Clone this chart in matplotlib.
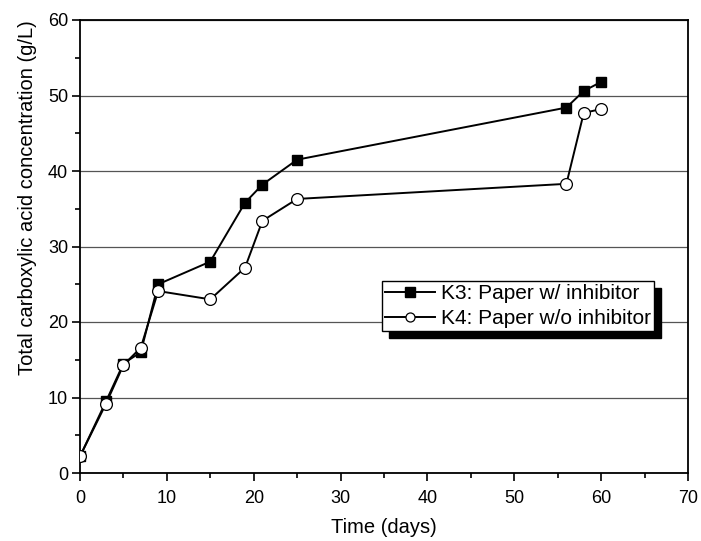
import matplotlib
matplotlib.use('Agg')
import matplotlib.pyplot as plt
from matplotlib.ticker import MultipleLocator

plt.rcParams['font.family'] = ['Liberation Sans', 'DejaVu Sans']

# days, g/L
k3_days = [0, 3, 5, 7, 9, 15, 19, 21, 25, 56, 58, 60]
k3_conc = [2.2, 9.5, 14.5, 16.0, 25.0, 28.0, 35.8, 38.2, 41.5, 48.4, 50.6, 51.8]
k4_days = [0, 3, 5, 7, 9, 15, 19, 21, 25, 56, 58, 60]
k4_conc = [2.2, 9.2, 14.3, 16.6, 24.1, 23.0, 27.2, 33.4, 36.3, 38.3, 47.7, 48.2]
k3_label = 'K3: Paper w/ inhibitor'
k4_label = 'K4: Paper w/o inhibitor'

fig = plt.figure(figsize=(7.01, 5.41), dpi=100)
ax = fig.add_axes([80 / 701, 1 - 473 / 541, 608 / 701, 453 / 541])

ax.plot(k3_days, k3_conc, color='black', lw=1.4, marker='s', ms=7,
        mfc='black', mec='black', label=k3_label, zorder=3)
ax.plot(k4_days, k4_conc, color='black', lw=1.4, marker='o', ms=8.5,
        mfc='white', mec='black', mew=0.9, label=k4_label, zorder=4)

ax.set_xlim(0, 70)
ax.set_ylim(0, 60)
ax.xaxis.set_major_locator(MultipleLocator(10))
ax.xaxis.set_minor_locator(MultipleLocator(5))
ax.yaxis.set_major_locator(MultipleLocator(10))
ax.yaxis.set_minor_locator(MultipleLocator(5))
ax.tick_params(which='major', direction='out', length=5.5, width=1.2,
               labelsize=13)
ax.tick_params(axis='x', which='major', pad=7)
ax.tick_params(axis='y', which='major', pad=3)
ax.tick_params(which='minor', direction='out', length=3.5, width=1.2)
ax.grid(axis='y', which='major', color='#555555', lw=0.9)
ax.set_axisbelow(True)
for s in ax.spines.values():
    s.set_linewidth(1.3)

ax.set_xlabel('Time (days)', fontsize=14.5, labelpad=8)
ax.set_ylabel('Total carboxylic acid concentration (g/L)', fontsize=14.5)
# the original label sits above the axis centre
ax.yaxis.set_label_coords(-0.071, 0.607)

leg = ax.legend(loc='upper left', bbox_to_anchor=(0.497, 0.424), borderaxespad=0,
                fontsize=15, fancybox=False, framealpha=1, edgecolor='black',
                handlelength=2.4, handletextpad=0.25, borderpad=0.15,
                labelspacing=0.3,
                shadow={'ox': 5, 'oy': -5, 'color': 'black', 'alpha': 1})
leg.get_frame().set_linewidth(1.0)
for h in leg.legend_handles:
    h.set_markersize(6.5)

fig.savefig('out.png', dpi=100)
